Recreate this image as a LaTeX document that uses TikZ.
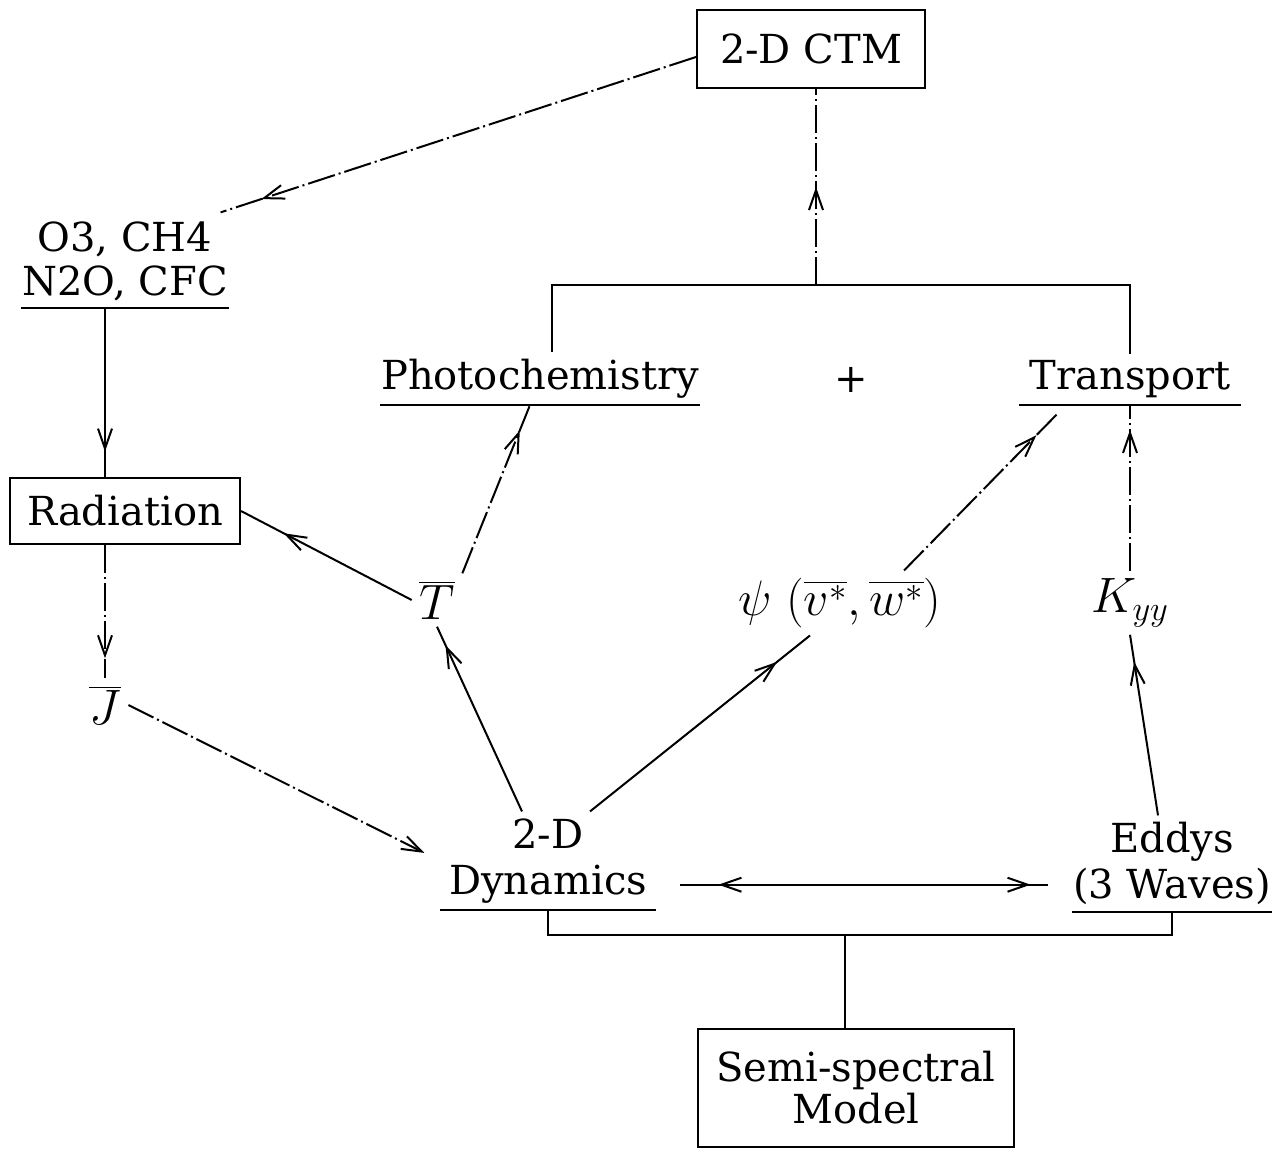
\documentclass[tikz,border=0pt]{standalone}
\usepackage{fontspec}
\setmainfont{DejaVu Serif}
\usetikzlibrary{arrows.meta,decorations.markings}

\tikzset{
  boxed/.style={draw, align=center, inner sep=2pt},
  uline/.style={align=center, inner xsep=0pt, inner ysep=3pt, minimum width=#1},
  flow/.style={postaction={decorate, decoration={markings,
      mark=at position #1 with {\arrow{Straight Barb[length=10pt,width=7pt]}}}}},
  flow/.default=0.85,
  faint/.style={dash pattern=on 14pt off 2pt on 1pt off 2pt},
  mathlbl/.style={font=\fontsize{24}{28}\selectfont}
}

\begin{document}
\begin{tikzpicture}[x=0.5pt, y=-0.5pt, line width=1pt, font=\fontsize{20}{22}\selectfont]
  \useasboundingbox (0,0) rectangle (1278,1149);

  % Boxes
  \node[boxed, minimum width=114pt, minimum height=39pt] (ctm) at (811,49) {2-D CTM};
  \node[boxed, minimum width=115pt, minimum height=33pt] (rad) at (125,511) {Radiation};
  \node[boxed, minimum width=158pt, minimum height=59pt, font=\fontsize{20}{21}\selectfont] (semi) at (856,1088) {Semi-spectral\\Model};

  % Underlined labels
  \node[uline=103pt, anchor=south] (gases) at (125,308) {O3, CH4\\N2O, CFC};
  \node[uline=157pt, anchor=south] (photo) at (540,405) {Photochemistry};
  \node[uline=110pt, anchor=south] (trans) at (1130,405) {Transport};
  \node[uline=107pt, anchor=south, font=\fontsize{20}{23}\selectfont] (dyn) at (548,910) {2-D\\Dynamics};
  \node[uline=98pt, anchor=south, font=\fontsize{20}{23}\selectfont] (eddys) at (1172,912) {Eddys\\(3 Waves)};
  \foreach \n in {gases,photo,trans,dyn,eddys}
    \draw (\n.south west) -- (\n.south east);

  % Plain labels
  \node (plus) at (851,380) {+};
  \node[mathlbl] (tbar) at (437,600) {$\overline{T}$};
  \node[mathlbl] (jbar) at (105,705) {$\overline{J}$};
  \node[mathlbl] (psi) at (840,603) {$\psi\;(\overline{v^{\ast}},\overline{w^{\ast}})$};
  \node[mathlbl] (kyy) at (1130,603) {$K_{yy}$};

  % Brackets
  \coordinate (top) at (816,285);
  \draw ([xshift=6pt]photo.north) |- (top) -| (trans.north);
  \draw[flow=0.5, faint] (top) -- (top |- ctm.south);
  \path (dyn.south) ++(0,25) coordinate (bot);
  \draw (dyn.south) -- (bot) -| (eddys.south);
  \draw (bot -| 845,0) -- ([xshift=-5.5pt]semi.north);

  % Left chain
  \draw[flow=0.9, faint, shorten >=4pt] ([yshift=-4pt]ctm.west) -- ([xshift=-8pt]gases.north east);
  \draw[flow=0.85] (gases.south -| jbar.north) -- (rad.north -| jbar.north);
  \draw[flow=0.85, faint] (rad.south -| jbar.north) -- (jbar.north);
  \draw[flow=0.95, faint, shorten >=12pt] (jbar.east) -- (dyn.west);

  % Middle
  \draw[flow=0.75] (tbar.west) -- (rad.east);
  \draw[flow=0.85, faint] (tbar.north east) -- ([xshift=-5pt]photo.south);
  \draw[flow=0.9] ([xshift=-13pt]dyn.north) -- (tbar.south);
  \draw[flow=0.85] ([xshift=21pt]dyn.north) -- ([xshift=-15pt]psi.south);
  \draw[flow=0.82, faint, shorten >=6pt] ([xshift=32pt]psi.north) -- ([xshift=-32pt]trans.south);

  % Right
  \draw[flow=0.85] ([xshift=-7pt]eddys.north) -- (kyy.south);
  \draw[flow=0.85, faint] (kyy.north) -- (trans.south);

  % Dynamics <-> Eddys
  \draw[shorten <=12pt, shorten >=12pt,
        postaction={decorate, decoration={markings,
          mark=at position 0.15 with {\arrowreversed{Straight Barb[length=10pt,width=7pt]}},
          mark=at position 0.9 with {\arrow{Straight Barb[length=10pt,width=7pt]}}}}]
    ([yshift=-12pt]dyn.east) coordinate (dlink) -- (dlink -| eddys.west);
\end{tikzpicture}
\end{document}
